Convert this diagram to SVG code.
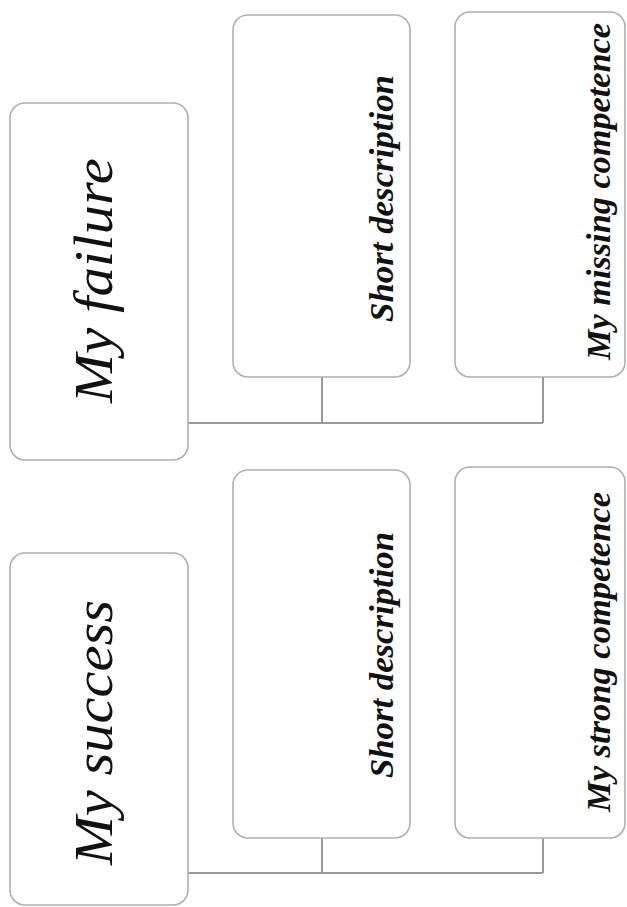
<svg xmlns="http://www.w3.org/2000/svg" width="627" height="907" viewBox="0 0 627 907">
<style>
.box{fill:#ffffff;stroke:#b0b0b0;stroke-width:1.6}
.conn{fill:none;stroke:#999999;stroke-width:2}
.title{font-family:"Liberation Serif","Times New Roman",serif;font-style:italic;font-size:54px;fill:#111}
.label{font-family:"Liberation Serif","Times New Roman",serif;font-style:italic;font-weight:bold;font-size:34px;fill:#111}
</style>
<rect width="627" height="907" fill="#ffffff"/>
<g id="connectors">
<path class="conn" d="M188,423 H543 M322,377 V423 M543,377 V423"/>
<path class="conn" d="M188,873 H543 M322,838 V873 M543,838 V873"/>
</g>
<g id="my-failure">
<rect class="box" x="10" y="103" width="178" height="357" rx="15"/>
<text class="title" transform="translate(112,403) rotate(-90)" textLength="245" lengthAdjust="spacingAndGlyphs">My failure</text>
</g>
<g id="failure-description">
<rect class="box" x="233" y="15" width="177" height="362" rx="15"/>
<text class="label" transform="translate(393,322) rotate(-90)" textLength="247" lengthAdjust="spacingAndGlyphs">Short description</text>
</g>
<g id="missing-competence">
<rect class="box" x="455" y="12" width="170" height="365" rx="15"/>
<text class="label" transform="translate(610,360) rotate(-90)" textLength="337" lengthAdjust="spacingAndGlyphs">My missing competence</text>
</g>
<g id="my-success">
<rect class="box" x="10" y="553" width="178" height="352" rx="15"/>
<text class="title" transform="translate(112,865) rotate(-90)" textLength="265" lengthAdjust="spacingAndGlyphs">My success</text>
</g>
<g id="success-description">
<rect class="box" x="233" y="470" width="177" height="368" rx="15"/>
<text class="label" transform="translate(393,778) rotate(-90)" textLength="246" lengthAdjust="spacingAndGlyphs">Short description</text>
</g>
<g id="strong-competence">
<rect class="box" x="455" y="467" width="170" height="371" rx="15"/>
<text class="label" transform="translate(610,812) rotate(-90)" textLength="320" lengthAdjust="spacingAndGlyphs">My strong competence</text>
</g>
</svg>
